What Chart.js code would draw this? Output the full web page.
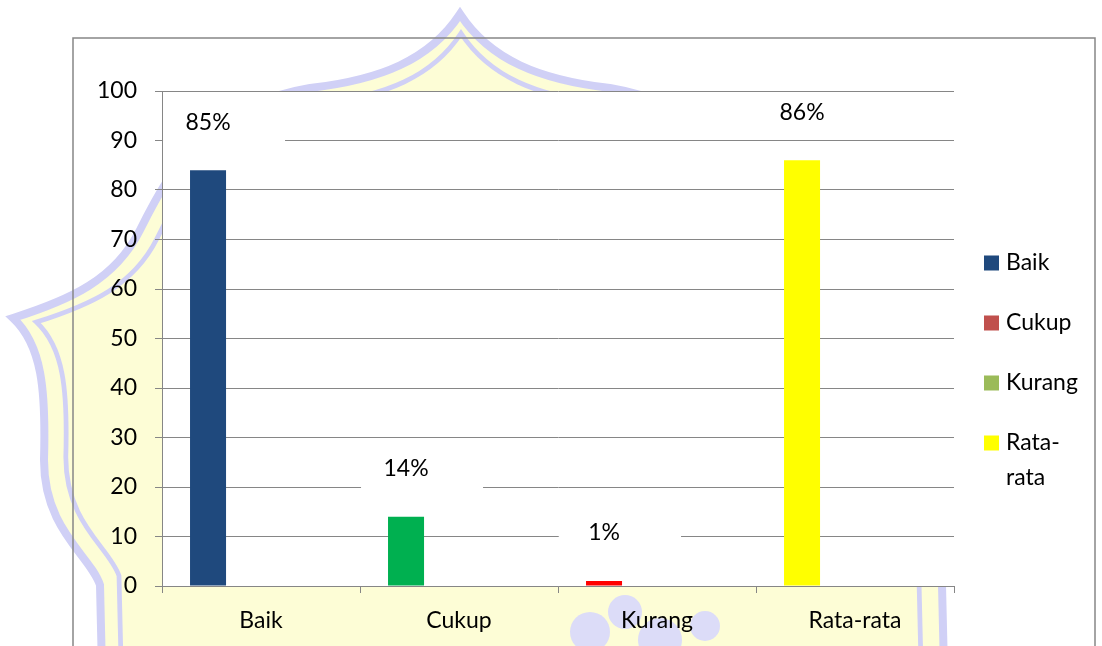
<!DOCTYPE html>
<html>
<head>
<meta charset="utf-8">
<script src="https://cdn.jsdelivr.net/npm/chart.js@4.4.1/dist/chart.umd.min.js"></script>
<style>
    html, body { margin: 0; padding: 0; background: #fff; }
    canvas { display: block; }
</style>
</head>
<body>
<canvas id="grafik" width="1102" height="646"></canvas>
<script>
// Data grafik
const kategori = ['Baik', 'Cukup', 'Kurang', 'Rata-rata'];
const nilai = [84, 14, 1, 86];
const labelPersen = ['85%', '14%', '1%', '86%'];
const warnaBatang = ['#1F497D', '#00B050', '#FF0000', '#FFFF00'];
const legendaTeks = [['Baik'], ['Cukup'], ['Kurang'], ['Rata-', 'rata']];
const warnaLegenda = ['#1F497D', '#C0504D', '#9BBB59', '#FFFF00'];
const sumbuY = { min: 0, max: 100, step: 10 };

const FONT = '23px Lato';
const ABU = '#868686';

// Logo samar di belakang (watermark)
function jalurLogo(ctx) {
    ctx.beginPath();
    ctx.moveTo(460, 14);
    ctx.bezierCurveTo(430, 60, 380, 80, 310, 88);
    ctx.bezierCurveTo(210, 105, 175, 160, 140, 230);
    ctx.bezierCurveTo(115, 280, 70, 300, 13, 318);
    ctx.bezierCurveTo(42, 345, 46, 390, 44, 460);
    ctx.bezierCurveTo(44, 530, 90, 555, 100, 585);
    ctx.lineTo(102, 670);
    ctx.lineTo(944, 670);
    ctx.lineTo(942, 585);
    ctx.bezierCurveTo(960, 555, 900, 530, 900, 460);
    ctx.bezierCurveTo(898, 390, 880, 345, 907, 318);
    ctx.bezierCurveTo(850, 300, 805, 280, 780, 230);
    ctx.bezierCurveTo(745, 160, 710, 105, 610, 88);
    ctx.bezierCurveTo(540, 80, 490, 60, 460, 14);
    ctx.closePath();
}

const latarPlugin = {
    id: 'latar',
    beforeDraw(chart) {
        const ctx = chart.ctx;
        const a = chart.chartArea;
        ctx.save();
        jalurLogo(ctx);
        ctx.fillStyle = '#FDFDD6';
        ctx.fill();
        ctx.strokeStyle = '#D0D0F6';
        ctx.lineWidth = 8;
        ctx.stroke();
        ctx.translate(480, 400);
        ctx.scale(0.95, 0.95);
        ctx.translate(-480, -400);
        jalurLogo(ctx);
        ctx.lineWidth = 5;
        ctx.stroke();
        ctx.restore();

        // gumpalan samar di bawah
        ctx.save();
        ctx.fillStyle = '#DCDCF8';
        [[590, 632, 20], [625, 612, 17], [660, 640, 22], [705, 626, 15]].forEach(([x, y, r]) => {
            ctx.beginPath();
            ctx.arc(x, y, r, 0, Math.PI * 2);
            ctx.fill();
        });
        ctx.restore();

        // bingkai grafik
        ctx.save();
        ctx.strokeStyle = ABU;
        ctx.lineWidth = 1.5;
        ctx.strokeRect(73, 38, 1022, 700);
        // area plot putih
        ctx.fillStyle = '#fff';
        ctx.fillRect(a.left, a.top, a.right - a.left, a.bottom - a.top);
        ctx.restore();
    }
};

// Label persen dengan kotak putih
const labelPlugin = {
    id: 'labelPersen',
    afterDatasetsDraw(chart) {
        const ctx = chart.ctx;
        const meta = chart.getDatasetMeta(0);
        ctx.save();
        ctx.font = FONT;
        ctx.textAlign = 'center';
        ctx.textBaseline = 'middle';
        meta.data.forEach((bar, i) => {
            const ty = bar.y - 48;
            ctx.fillStyle = '#fff';
            ctx.fillRect(bar.x - 45, ty - 16, 122, 36);
            ctx.fillStyle = '#000';
            ctx.fillText(labelPersen[i], bar.x, ty);
        });
        ctx.restore();
    }
};

// Legenda kanan
const legendaPlugin = {
    id: 'legenda',
    afterDraw(chart) {
        const ctx = chart.ctx;
        const a = chart.chartArea;
        const x = a.right + 30;
        let y = a.top + 172;
        ctx.save();
        ctx.font = FONT;
        ctx.textAlign = 'left';
        ctx.textBaseline = 'middle';
        legendaTeks.forEach((baris, i) => {
            ctx.fillStyle = warnaLegenda[i];
            ctx.fillRect(x, y - 7.5, 15, 15);
            ctx.fillStyle = '#000';
            baris.forEach((t, j) => ctx.fillText(t, x + 22, y + j * 35));
            y += 60;
        });
        ctx.restore();
    }
};

const ctx = document.getElementById('grafik').getContext('2d');
const grafik = new Chart(ctx, {
    type: 'bar',
    data: {
        labels: kategori,
        datasets: [{
            data: nilai,
            backgroundColor: warnaBatang,
            borderWidth: 0,
            categoryPercentage: 1.07,
            barPercentage: 0.34
        }, {
            // seri kosong, hanya pengisi slot
            data: [],
            categoryPercentage: 1.07,
            barPercentage: 0.34
        }]
    },
    options: {
        responsive: false,
        animation: false,
        devicePixelRatio: 1,
        layout: { padding: { top: 91, right: 148, bottom: 0, left: 0 } },
        plugins: {
            legend: { display: false },
            tooltip: { enabled: false }
        },
        scales: {
            x: {
                afterFit: s => { s.height = 60; },
                grid: { offset: true, drawOnChartArea: false, tickLength: 7, color: ABU },
                border: { color: ABU },
                ticks: { color: '#000', font: { family: 'Lato', size: 23 }, padding: 14 }
            },
            y: {
                min: sumbuY.min,
                max: sumbuY.max,
                afterFit: s => { s.width = 162; },
                grid: { color: ABU, tickLength: 7 },
                border: { color: ABU },
                ticks: { stepSize: sumbuY.step, color: '#000', font: { family: 'Lato', size: 23 }, padding: 18 }
            }
        }
    },
    plugins: [latarPlugin, labelPlugin, legendaPlugin]
});
</script>
</body>
</html>
